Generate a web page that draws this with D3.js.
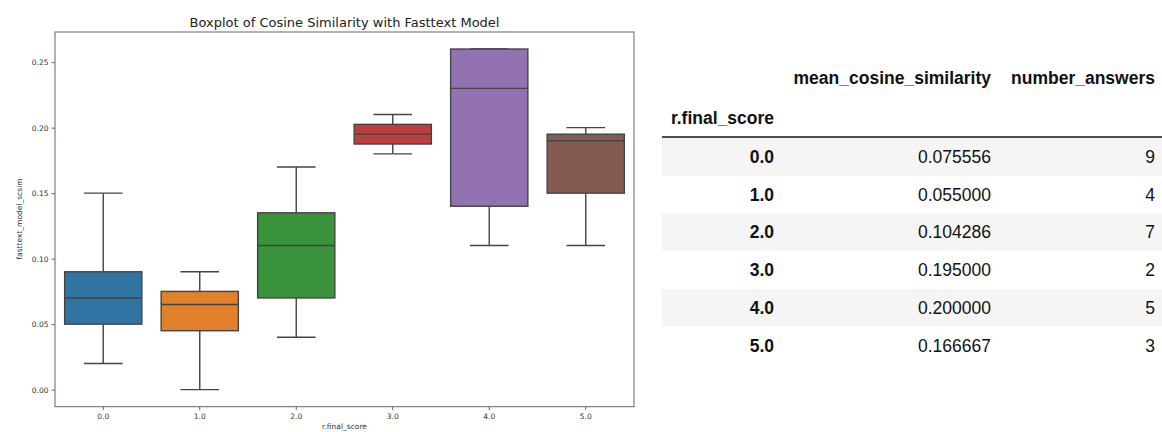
<!DOCTYPE html>
<html>
<head>
<meta charset="utf-8">
<script src="https://cdn.jsdelivr.net/npm/d3@7"></script>
<style>
  body { margin: 0; background: #fff; }
  svg { display: block; }
</style>
</head>
<body>
<div class="chart"></div>
<script>
// boxplot stats per r.final_score group
var categories = ["0.0", "1.0", "2.0", "3.0", "4.0", "5.0"];
var whiskLow  = [0.02, 0.00, 0.04, 0.18, 0.11, 0.11];
var q1        = [0.05, 0.045, 0.07, 0.1875, 0.14, 0.15];
var median    = [0.07, 0.065, 0.11, 0.195, 0.23, 0.19];
var q3        = [0.09, 0.075, 0.135, 0.2025, 0.26, 0.195];
var whiskHigh = [0.15, 0.09, 0.17, 0.21, 0.26, 0.20];
var boxColors = ["#3274a1", "#e1812c", "#3a923a", "#c03d3e", "#9372b2", "#845b53"];
var yTicks = [0, 0.05, 0.10, 0.15, 0.20, 0.25];

// summary table
var tableIndex = ["0.0", "1.0", "2.0", "3.0", "4.0", "5.0"];
var meanCosine = ["0.075556", "0.055000", "0.104286", "0.195000", "0.200000", "0.166667"];
var numberAnswers = ["9", "4", "7", "2", "5", "3"];

var svg = d3.select(".chart").append("svg")
  .attr("width", 1162).attr("height", 432);

var x = d3.scaleBand().domain(categories).range([55, 634]).padding(0);
var y = d3.scaleLinear().domain([-0.013, 0.273]).range([406.7, 32]);

var edge = "#444";
var tickFont = "DejaVu Sans, sans-serif";

// plot frame
svg.append("rect")
  .attr("x", 55).attr("y", 32).attr("width", 579).attr("height", 374.7)
  .attr("fill", "none").attr("stroke", "#666").attr("stroke-width", 1);

// boxes
var data = categories.map(function(c, i) {
  return {cat: c, lo: whiskLow[i], q1: q1[i], med: median[i], q3: q3[i], hi: whiskHigh[i], fill: boxColors[i]};
});

var bw = x.bandwidth() * 0.8;
var g = svg.selectAll("g.box").data(data).enter().append("g")
  .attr("class", "box")
  .attr("transform", function(d) { return "translate(" + (x(d.cat) + x.bandwidth() / 2) + ",0)"; });

// whiskers
g.append("line").attr("x1", 0).attr("x2", 0)
  .attr("y1", function(d) { return y(d.q1); }).attr("y2", function(d) { return y(d.lo); })
  .attr("stroke", edge).attr("stroke-width", 1.4);
g.append("line").attr("x1", 0).attr("x2", 0)
  .attr("y1", function(d) { return y(d.q3); }).attr("y2", function(d) { return y(d.hi); })
  .attr("stroke", edge).attr("stroke-width", 1.4);
// caps
g.append("line").attr("x1", -bw / 4).attr("x2", bw / 4)
  .attr("y1", function(d) { return y(d.lo); }).attr("y2", function(d) { return y(d.lo); })
  .attr("stroke", edge).attr("stroke-width", 1.4);
g.append("line").attr("x1", -bw / 4).attr("x2", bw / 4)
  .attr("y1", function(d) { return y(d.hi); }).attr("y2", function(d) { return y(d.hi); })
  .attr("stroke", edge).attr("stroke-width", 1.4);

g.append("rect")
  .attr("x", -bw / 2).attr("width", bw)
  .attr("y", function(d) { return y(d.q3); })
  .attr("height", function(d) { return y(d.q1) - y(d.q3); })
  .attr("fill", function(d) { return d.fill; })
  .attr("stroke", edge).attr("stroke-width", 1.4);

g.append("line").attr("x1", -bw / 2).attr("x2", bw / 2)
  .attr("y1", function(d) { return y(d.med); }).attr("y2", function(d) { return y(d.med); })
  .attr("stroke", edge).attr("stroke-width", 1.4);

// axes
var xAxis = d3.axisBottom(x).tickSize(3.5).tickPadding(3);
var xg = svg.append("g").attr("transform", "translate(0,406.7)").call(xAxis);
var yAxis = d3.axisLeft(y).tickValues(yTicks).tickFormat(d3.format(".2f")).tickSize(3.5).tickPadding(3);
var yg = svg.append("g").attr("transform", "translate(55,0)").call(yAxis);

[xg, yg].forEach(function(a) {
  a.select(".domain").remove();
  a.selectAll(".tick line").attr("stroke", "#666");
  a.selectAll(".tick text").attr("fill", "#333").style("font-family", tickFont).style("font-size", "7.5px");
});

// labels
svg.append("text")
  .attr("x", 344.5).attr("y", 27)
  .attr("text-anchor", "middle")
  .style("font-family", tickFont).style("font-size", "13px").attr("fill", "#222")
  .text("Boxplot of Cosine Similarity with Fasttext Model");

svg.append("text")
  .attr("x", 344.5).attr("y", 428.5)
  .attr("text-anchor", "middle")
  .style("font-family", tickFont).style("font-size", "7.5px").attr("fill", "#333")
  .text("r.final_score");

svg.append("text")
  .attr("transform", "translate(22,219) rotate(-90)")
  .attr("text-anchor", "middle")
  .style("font-family", tickFont).style("font-size", "7.5px").attr("fill", "#333")
  .text("fasttext_model_scsim");

// table
var tFont = "Liberation Sans, Arial, sans-serif";
var rowY = d3.scaleBand().domain(tableIndex).range([138, 364.5]).padding(0);
var table = svg.append("g");

table.selectAll("rect.band").data(tableIndex.filter(function(d, i) { return i % 2 === 0; }))
  .enter().append("rect")
  .attr("x", 662).attr("width", 500)
  .attr("y", function(d) { return rowY(d); })
  .attr("height", rowY.bandwidth())
  .attr("fill", "#f5f5f5");

table.append("line")
  .attr("x1", 662).attr("x2", 1162).attr("y1", 137).attr("y2", 137)
  .attr("stroke", "#111").attr("stroke-width", 1.5);

var colRight = [774, 991, 1155];
var headers = ["mean_cosine_similarity", "number_answers"];

table.selectAll("text.head").data(headers).enter().append("text")
  .attr("x", function(d, i) { return colRight[i + 1]; })
  .attr("y", 84)
  .attr("text-anchor", "end")
  .style("font-family", tFont).style("font-size", "17.5px").style("font-weight", "bold").attr("fill", "#111")
  .text(function(d) { return d; });

table.append("text")
  .attr("x", colRight[0]).attr("y", 124)
  .attr("text-anchor", "end")
  .style("font-family", tFont).style("font-size", "17.5px").style("font-weight", "bold").attr("fill", "#111")
  .text("r.final_score");

var rows = table.selectAll("g.row").data(tableIndex).enter().append("g")
  .attr("transform", function(d) { return "translate(0," + (rowY(d) + rowY.bandwidth() / 2 + 6) + ")"; });

rows.append("text").attr("x", colRight[0]).attr("text-anchor", "end")
  .style("font-family", tFont).style("font-size", "17.5px").style("font-weight", "bold").attr("fill", "#111")
  .text(function(d) { return d; });
rows.append("text").attr("x", colRight[1]).attr("text-anchor", "end")
  .style("font-family", tFont).style("font-size", "17.5px").attr("fill", "#111")
  .text(function(d, i) { return meanCosine[i]; });
rows.append("text").attr("x", colRight[2]).attr("text-anchor", "end")
  .style("font-family", tFont).style("font-size", "17.5px").attr("fill", "#111")
  .text(function(d, i) { return numberAnswers[i]; });
</script>
</body>
</html>
